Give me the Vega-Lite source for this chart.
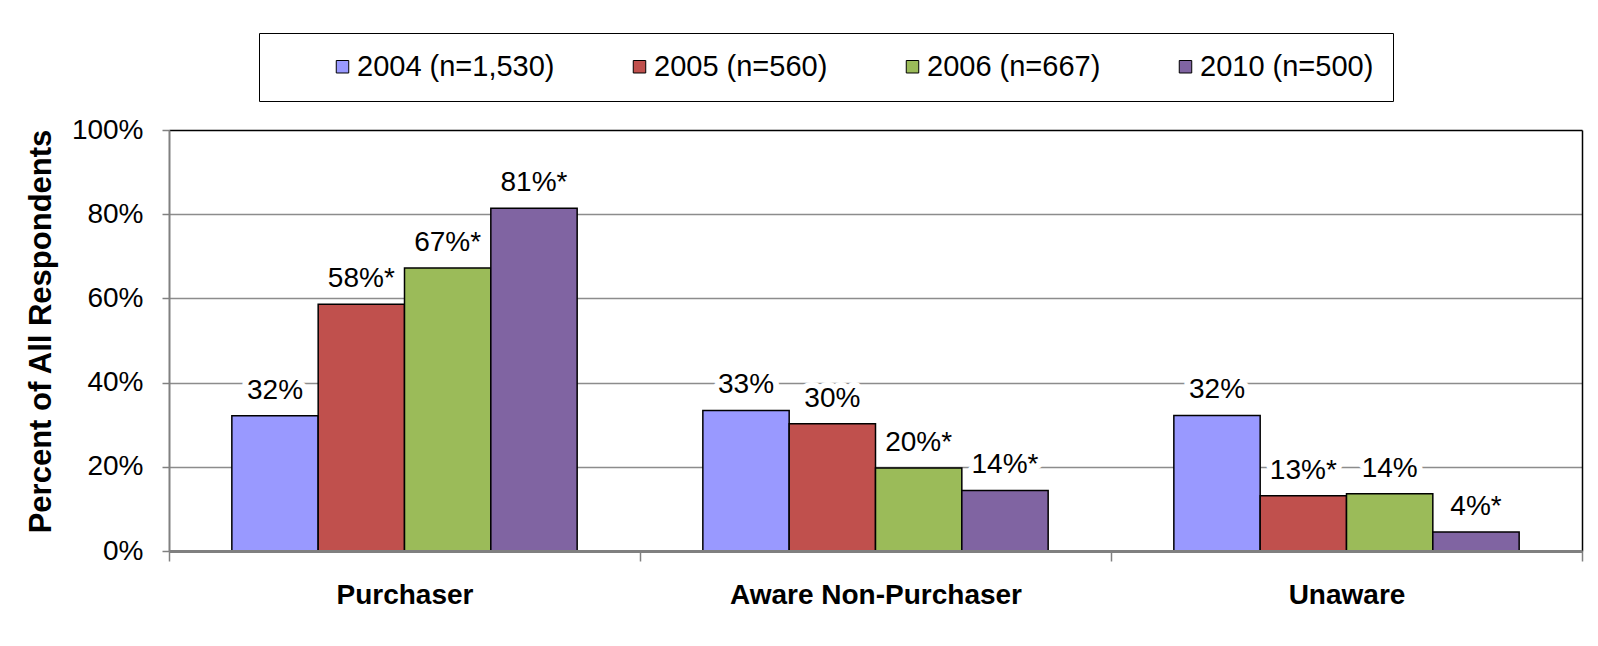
{
  "$schema": "https://vega.github.io/schema/vega-lite/v6.json",
  "width": 1413,
  "height": 421,
  "autosize": {"type": "none"},
  "padding": {"left": 169, "top": 130, "right": 16, "bottom": 95},
  "background": "white",
  "data": {
    "values": [
      {"segment": "Purchaser", "series": "2004 (n=1,530)", "value": 32.1, "label": "32%"},
      {"segment": "Purchaser", "series": "2005 (n=560)", "value": 58.6, "label": "58%*"},
      {"segment": "Purchaser", "series": "2006 (n=667)", "value": 67.2, "label": "67%*"},
      {"segment": "Purchaser", "series": "2010 (n=500)", "value": 81.4, "label": "81%*"},
      {"segment": "Aware Non-Purchaser", "series": "2004 (n=1,530)", "value": 33.4, "label": "33%"},
      {"segment": "Aware Non-Purchaser", "series": "2005 (n=560)", "value": 30.2, "label": "30%"},
      {"segment": "Aware Non-Purchaser", "series": "2006 (n=667)", "value": 19.7, "label": "20%*"},
      {"segment": "Aware Non-Purchaser", "series": "2010 (n=500)", "value": 14.4, "label": "14%*"},
      {"segment": "Unaware", "series": "2004 (n=1,530)", "value": 32.2, "label": "32%"},
      {"segment": "Unaware", "series": "2005 (n=560)", "value": 13.1, "label": "13%*"},
      {"segment": "Unaware", "series": "2006 (n=667)", "value": 13.6, "label": "14%"},
      {"segment": "Unaware", "series": "2010 (n=500)", "value": 4.5, "label": "4%*"}
    ]
  },
  "encoding": {
    "x": {
      "field": "segment",
      "type": "nominal",
      "sort": ["Purchaser", "Aware Non-Purchaser", "Unaware"],
      "scale": {"paddingInner": 0, "paddingOuter": 0},
      "axis": {
        "title": null,
        "labelAngle": 0,
        "labelLimit": 0,
        "labelFont": "Liberation Sans",
        "labelFontSize": 28,
        "labelFontWeight": "bold",
        "labelColor": "black",
        "labelPadding": 20,
        "tickBand": "extent",
        "tickSize": 10,
        "tickColor": "#808080",
        "tickWidth": 1.5,
        "domainColor": "#808080",
        "domainWidth": 3,
        "grid": false,
        "zindex": 1
      }
    },
    "xOffset": {
      "field": "series",
      "type": "nominal",
      "sort": ["2004 (n=1,530)", "2005 (n=560)", "2006 (n=667)", "2010 (n=500)"],
      "scale": {"paddingInner": 0, "paddingOuter": 0.728}
    }
  },
  "layer": [
    {
      "mark": {"type": "bar", "stroke": "black", "strokeWidth": 1.5},
      "encoding": {
        "y": {
          "field": "value",
          "type": "quantitative",
          "scale": {"domain": [0, 100], "nice": false},
          "axis": {
            "title": "Percent of All Respondents",
            "titleFont": "Liberation Sans",
            "titleFontSize": 31,
            "titleFontWeight": "bold",
            "titleColor": "black",
            "titlePadding": 14,
            "titleY": 201,
            "values": [0, 20, 40, 60, 80, 100],
            "labelExpr": "datum.value + '%'",
            "labelFont": "Liberation Sans",
            "labelFontSize": 28,
            "labelColor": "black",
            "labelPadding": 19,
            "tickSize": 7,
            "tickColor": "#808080",
            "tickWidth": 1.5,
            "domainColor": "#808080",
            "domainWidth": 2,
            "grid": true,
            "gridColor": {"condition": {"test": "datum.value === 100", "value": "black"}, "value": "#8c8c8c"},
            "gridWidth": 1.5
          }
        },
        "color": {
          "field": "series",
          "type": "nominal",
          "sort": ["2004 (n=1,530)", "2005 (n=560)", "2006 (n=667)", "2010 (n=500)"],
          "scale": {
            "domain": ["2004 (n=1,530)", "2005 (n=560)", "2006 (n=667)", "2010 (n=500)"],
            "range": ["#9999FF", "#C0504D", "#9BBB59", "#8064A2"]
          },
          "legend": {
            "title": null,
            "orient": "none",
            "legendX": 90,
            "legendY": -97,
            "direction": "horizontal",
            "columns": 4,
            "strokeColor": "black",
            "padding": 19,
            "symbolType": "square",
            "symbolSize": 156,
            "symbolStrokeColor": "black",
            "symbolStrokeWidth": 1,
            "symbolOpacity": 1,
            "symbolOffset": 50,
            "labelOffset": 0,
            "labelLimit": 0,
            "labelFont": "Liberation Sans",
            "labelFontSize": 29,
            "labelColor": "black",
            "columnPadding": 20
          }
        }
      }
    },
    {
      "mark": {"type": "text", "dy": -25, "baseline": "middle", "align": "center", "font": "Liberation Sans", "fontSize": 28, "fill": "white", "stroke": "white", "strokeWidth": 12, "strokeJoin": "round"},
      "encoding": {
        "y": {
          "field": "value",
          "type": "quantitative",
          "scale": {"domain": [0, 100], "nice": false},
          "axis": {
            "orient": "right",
            "title": null,
            "labels": false,
            "ticks": false,
            "grid": false,
            "domainColor": "black",
            "domainWidth": 1.5
          }
        },
        "text": {"field": "label"}
      }
    },
    {
      "mark": {"type": "text", "dy": -25, "baseline": "middle", "align": "center", "font": "Liberation Sans", "fontSize": 28, "fill": "black"},
      "encoding": {
        "y": {"field": "value", "type": "quantitative", "scale": {"domain": [0, 100], "nice": false}, "axis": null},
        "text": {"field": "label"}
      }
    }
  ],
  "resolve": {"axis": {"y": "independent"}},
  "config": {
    "view": {"stroke": null},
    "font": "Liberation Sans"
  }
}
